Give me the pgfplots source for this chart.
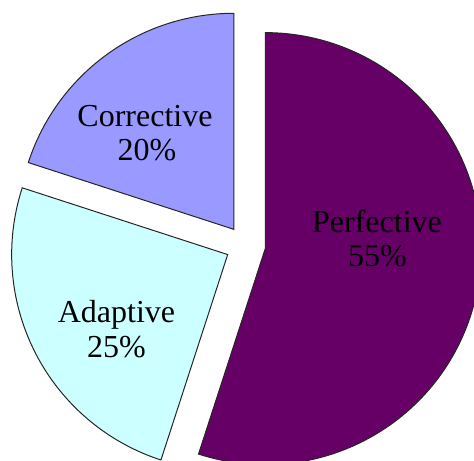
\documentclass[border=0pt]{standalone}
\usepackage{pgfplots}
\pgfplotsset{compat=1.18}
\usepackage{fontspec}
\setmainfont{Liberation Serif}
\definecolor{perf}{HTML}{660066}
\definecolor{corr}{HTML}{9999FF}
\definecolor{adap}{HTML}{CCFFFF}
% #1 start angle, #2 percent, #3 colour
\newcommand{\pieslice}[3]{%
  \pgfmathsetmacro\endA{#1+3.6*#2}%
  \pgfmathsetmacro\midA{(#1+\endA)/2}%
  \pgfmathsetmacro\cx{245.5+20*cos(\midA)}%
  \pgfmathsetmacro\cy{215.5+20*sin(\midA)}%
  \edef\temp{\noexpand\fill[#3, draw=black!85, line width=0.5bp]
    (axis cs:\cx,\cy) -- ++(#1:108bp)
    arc[start angle=#1, end angle=\endA, radius=108bp] -- cycle;}%
  \temp
}
\begin{document}
\begin{tikzpicture}
\begin{axis}[
  x=0.5bp, y=0.5bp,
  xmin=0, xmax=474, ymin=0, ymax=461,
  hide axis,
  clip=true,
]
% slices: start angle, percentage, colour
\pieslice{-108}{55}{perf}
\pieslice{162}{25}{adap}
\pieslice{90}{20}{corr}
\begin{scope}[every node/.style={font=\fontsize{16bp}{17bp}\selectfont, anchor=base, inner sep=0pt}]
\node at (axis cs:377,228) {Perfective};
\node at (axis cs:377.5,194) {55\%};
\node at (axis cs:145,334) {Corrective};
\node at (axis cs:147,300) {20\%};
\node at (axis cs:116.5,138) {Adaptive};
\node at (axis cs:116.5,103) {25\%};
\end{scope}
\end{axis}
\pgfresetboundingbox
\path[use as bounding box] (current axis.south west) rectangle (current axis.north east);
\end{tikzpicture}
\end{document}
